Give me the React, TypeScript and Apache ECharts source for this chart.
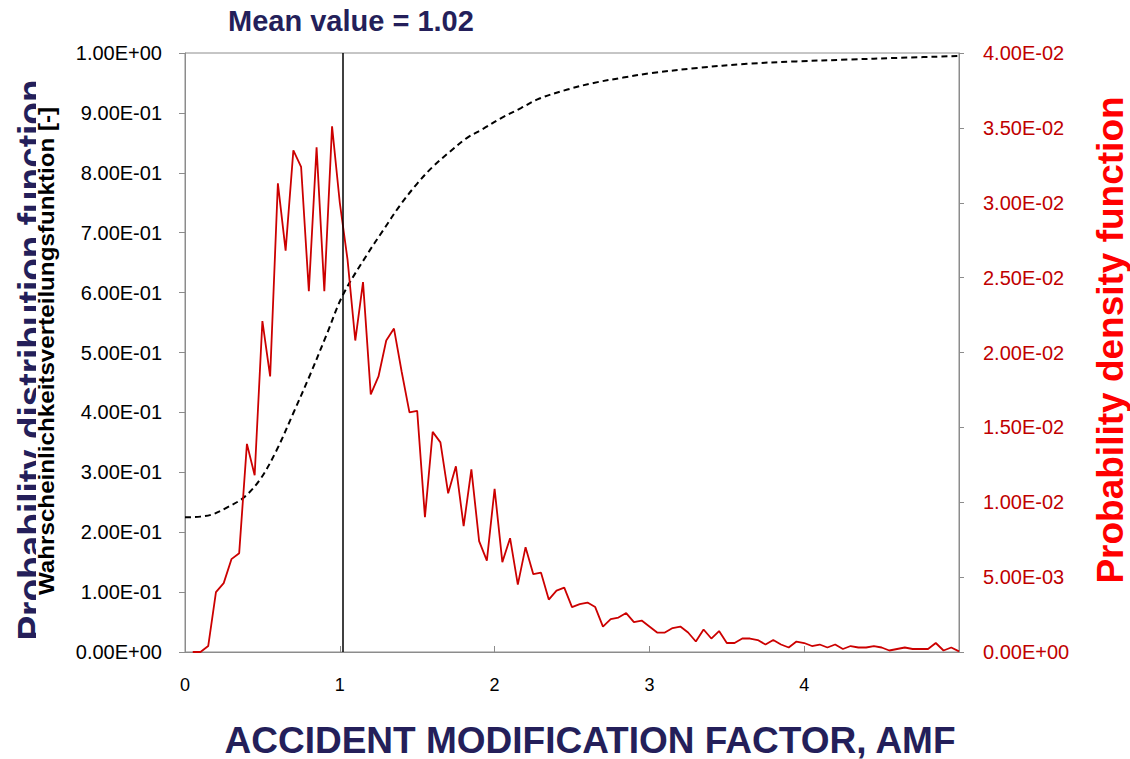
import React, { useEffect, useRef } from "react";
import * as echarts from "echarts";

// Accident modification factor grid for the density curve
const amf = [
  0.05, 0.1, 0.15, 0.2, 0.25, 0.3, 0.35, 0.4, 0.45, 0.5,
  0.55, 0.6, 0.65, 0.7, 0.75, 0.8, 0.85, 0.9, 0.95, 1.0,
  1.05, 1.1, 1.15, 1.2, 1.25, 1.3, 1.35, 1.4, 1.45, 1.5,
  1.55, 1.6, 1.65, 1.7, 1.75, 1.8, 1.85, 1.9, 1.95, 2.0,
  2.05, 2.1, 2.15, 2.2, 2.25, 2.3, 2.35, 2.4, 2.45, 2.5,
  2.55, 2.6, 2.65, 2.7, 2.75, 2.8, 2.85, 2.9, 2.95, 3.0,
  3.05, 3.1, 3.15, 3.2, 3.25, 3.3, 3.35, 3.4, 3.45, 3.5,
  3.55, 3.6, 3.65, 3.7, 3.75, 3.8, 3.85, 3.9, 3.95, 4.0,
  4.05, 4.1, 4.15, 4.2, 4.25, 4.3, 4.35, 4.4, 4.45, 4.5,
  4.55, 4.6, 4.65, 4.7, 4.75, 4.8, 4.85, 4.9, 4.95, 5.0,
];

// Probability density (right axis)
const pdf = [
  0, 0, 0.0004, 0.004, 0.0046, 0.0062, 0.0066, 0.0139, 0.0118, 0.0221,
  0.0184, 0.0313, 0.0268, 0.0335, 0.0324, 0.0241, 0.0337, 0.0241, 0.0351, 0.03,
  0.0262, 0.0208, 0.0247, 0.0172, 0.0184, 0.0208, 0.0216, 0.0187, 0.016, 0.0161,
  0.009, 0.0147, 0.014, 0.0106, 0.0124, 0.0084, 0.0122, 0.0074, 0.0061, 0.0109,
  0.006, 0.0076, 0.0045, 0.007, 0.0052, 0.0053, 0.0035, 0.0041, 0.0043, 0.003,
  0.0032, 0.0033, 0.003, 0.0017, 0.0022, 0.0023, 0.0026, 0.002, 0.0021, 0.0017,
  0.0013, 0.0013, 0.0016, 0.0017, 0.0013, 0.0007, 0.0015, 0.0009, 0.0014, 0.0006,
  0.0006, 0.0009, 0.0009, 0.0008, 0.0005, 0.0008, 0.0005, 0.0003, 0.0007, 0.0006,
  0.0004, 0.0005, 0.0003, 0.0005, 0.0002, 0.0004, 0.0003, 0.0003, 0.0004, 0.0003,
  0.0001, 0.0002, 0.0003, 0.0002, 0.0002, 0.0002, 0.0006, 0.0001, 0.0003, 0.00004,
];

// Cumulative distribution (left axis)
const cdfAmf = [
  0, 0.1, 0.18, 0.27, 0.38, 0.485, 0.59, 0.7, 0.81, 0.915, 1.02, 1.175, 1.28,
  1.39, 1.5, 1.6, 1.71, 1.82, 1.93, 2.04, 2.17, 2.29, 2.47, 2.64, 2.83, 3.0,
  3.31, 3.63, 3.95, 4.28, 4.62, 5.0,
];
const cdf = [
  0.225, 0.226, 0.23, 0.241, 0.258, 0.288, 0.336, 0.399, 0.464, 0.53, 0.596,
  0.663, 0.704, 0.746, 0.782, 0.81, 0.835, 0.858, 0.874, 0.891, 0.908, 0.924,
  0.939, 0.95, 0.959, 0.966, 0.975, 0.982, 0.986, 0.989, 0.992, 0.995,
];

const meanValue = 1.02;
const xTicks = [0, 1, 2, 3, 4];

const NAVY = "#241f5a";
const FONT = '"Liberation Sans", Arial, sans-serif';

function sci(v: number): string {
  const [m, e] = v.toExponential(2).split("e");
  const n = parseInt(e, 10);
  const abs = Math.abs(n);
  return `${m}E${n < 0 ? "-" : "+"}${abs < 10 ? "0" + abs : abs}`;
}

export default function App() {
  const ref = useRef<HTMLDivElement>(null);

  useEffect(() => {
    if (!ref.current) return;
    const chart = echarts.init(ref.current, undefined, { renderer: "svg" });

    const option: any = {
      animation: false,
      backgroundColor: "#ffffff",
      grid: {
        left: 185,
        right: 171,
        top: 53,
        bottom: 107,
        show: true,
        borderColor: "#8c8c8c",
        borderWidth: 1,
      },
      xAxis: {
        type: "value",
        min: 0,
        max: 5,
        interval: 1,
        axisLine: { show: true, lineStyle: { color: "#8c8c8c", width: 1 } },
        axisTick: { show: true, inside: true, length: 6, lineStyle: { color: "#8c8c8c" } },
        splitLine: { show: false },
        axisLabel: {
          color: "#000",
          fontFamily: FONT,
          fontSize: 18,
          margin: 24,
          formatter: (v: number) => (xTicks.includes(v) ? String(v) : ""),
        },
      },
      yAxis: [
        {
          type: "value",
          min: 0,
          max: 1,
          interval: 0.1,
          position: "left",
          axisLine: { show: true, lineStyle: { color: "#8c8c8c" } },
          axisTick: { show: true, length: 6, lineStyle: { color: "#8c8c8c" } },
          splitLine: { show: false },
          axisLabel: {
            color: "#000",
            fontFamily: FONT,
            fontSize: 20,
            margin: 23,
            formatter: (v: number) => sci(v),
          },
        },
        {
          type: "value",
          min: 0,
          max: 0.04,
          interval: 0.005,
          position: "right",
          axisLine: { show: true, lineStyle: { color: "#8c8c8c" } },
          axisTick: { show: true, length: 5, lineStyle: { color: "#8c8c8c" } },
          splitLine: { show: false },
          axisLabel: {
            color: "#c00000",
            fontFamily: FONT,
            fontSize: 20,
            margin: 24,
            formatter: (v: number) => sci(v),
          },
        },
      ],
      series: [
        {
          name: "Wahrscheinlichkeitsverteilungsfunktion",
          type: "line",
          yAxisIndex: 0,
          data: cdfAmf.map((x, i) => [x, cdf[i]]),
          smooth: 0.35,
          showSymbol: false,
          silent: true,
          lineStyle: { color: "#000", width: 2, type: [6, 4] },
          z: 2,
        },
        {
          name: "Probability density function",
          type: "line",
          yAxisIndex: 1,
          data: amf.map((x, i) => [x, pdf[i]]),
          showSymbol: false,
          silent: true,
          lineStyle: { color: "#cc0000", width: 1.8 },
          z: 3,
          markLine: {
            silent: true,
            symbol: ["none", "none"],
            label: { show: false },
            lineStyle: { color: "#000", width: 1.5, type: "solid" },
            data: [{ xAxis: meanValue }],
          },
        },
      ],
      graphic: [
        {
          type: "text",
          x: 228,
          y: 21,
          style: {
            text: `Mean value = ${meanValue.toFixed(2)}`,
            font: `bold 29px ${FONT}`,
            fill: NAVY,
            align: "left",
            verticalAlign: "middle",
          },
        },
        {
          type: "text",
          x: 590,
          y: 740,
          style: {
            text: "ACCIDENT MODIFICATION FACTOR, AMF",
            font: `bold 37px ${FONT}`,
            fill: NAVY,
            align: "center",
            verticalAlign: "middle",
          },
        },
        {
          type: "text",
          x: 31,
          y: 360,
          rotation: Math.PI / 2,
          z: 1,
          style: {
            text: "Probability distribution function",
            font: `bold 37px ${FONT}`,
            fill: NAVY,
            align: "center",
            verticalAlign: "middle",
          },
        },
        {
          type: "rect",
          z: 2,
          shape: { x: 36, y: 50, width: 26, height: 610 },
          style: { fill: "#ffffff" },
        },
        {
          type: "text",
          x: 46,
          y: 351,
          rotation: Math.PI / 2,
          scaleX: 1.1,
          z: 3,
          style: {
            text: "Wahrscheinlichkeitsverteilungsfunktion [-]",
            font: `bold 22px ${FONT}`,
            fill: "#000",
            align: "center",
            verticalAlign: "middle",
          },
        },
        {
          type: "text",
          x: 1110,
          y: 340,
          rotation: Math.PI / 2,
          style: {
            text: "Probability density function",
            font: `bold 37px ${FONT}`,
            fill: "#ff0000",
            align: "center",
            verticalAlign: "middle",
          },
        },
      ],
    };

    chart.setOption(option);
    return () => chart.dispose();
  }, []);

  return (
    <div
      ref={ref}
      style={{ position: "fixed", left: 0, top: 0, width: 1130, height: 759, background: "#fff" }}
    />
  );
}
